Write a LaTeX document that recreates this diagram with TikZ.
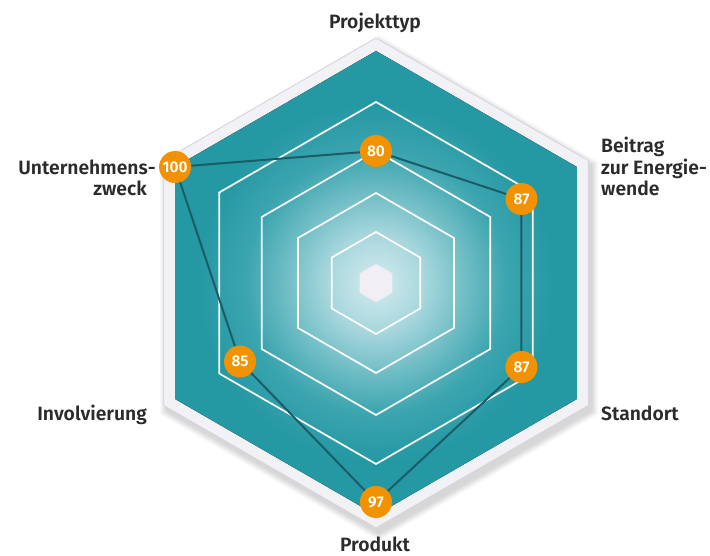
\documentclass[tikz,border=0pt]{standalone}
\usepackage{fontspec}
\setmainfont{Fira Sans}[UprightFont=* SemiBold, BoldFont=* SemiBold]
\usetikzlibrary{calc}
\definecolor{cA}{HTML}{D4ECEF}
\definecolor{cB}{HTML}{A6D6DC}
\definecolor{cC}{HTML}{70BDC5}
\definecolor{cD}{HTML}{3CA5AF}
\definecolor{cE}{HTML}{2498A3}
\definecolor{frame}{HTML}{F2F1F6}
\definecolor{frameedge}{HTML}{D3D3DC}
\definecolor{centerhex}{HTML}{F1EFF4}
\definecolor{dataline}{HTML}{1A5C68}
\definecolor{dotorange}{HTML}{F39200}
\definecolor{labelgray}{HTML}{2B2B2B}
\pgfdeclareradialshading{hexshade}{\pgfpointorigin}{color(0bp)=(cA); color(5bp)=(cB); color(9bp)=(cC); color(13bp)=(cD); color(18bp)=(cE); color(50bp)=(cE)}
\newcommand{\hexp}[1]{(-90:#1) -- (-30:#1) -- (30:#1) -- (90:#1) -- (150:#1) -- (210:#1) -- cycle}
\tikzset{
  lbl/.style={font=\fontsize{19.3}{23}\selectfont, text=labelgray, inner sep=0pt},
  ring/.style={draw=white, line width=1.7pt},
  dataedge/.style={draw=dataline, line width=2pt, line join=round},
  dot/.style={circle, fill=dotorange, minimum size=32pt, inner sep=0pt, text=white, font=\fontsize{15.5}{17}\selectfont}
}
\begin{document}
\begin{tikzpicture}[x=1pt, y=-1pt]
\useasboundingbox (0,0) rectangle (710,556);
\fill[white] (0,0) rectangle (710,556);
\begin{scope}[shift={(376,283)}]
  % soft shadow
  \foreach \i in {1,...,8} {
    \fill[black, opacity=0.02, shift={(3,5)}] \hexp{245+\i};
  }
  % frame
  \fill[frame] \hexp{245};
  \draw[frameedge, line width=0.8pt] \hexp{245};
  % teal area with radial gradient
  \begin{scope}
    \clip \hexp{232};
    \fill[shading=hexshade] (0,0) circle (250);
  \end{scope}
  % rings
  \draw[ring] \hexp{51};
  \draw[ring] \hexp{90};
  \draw[ring] \hexp{132};
  \draw[ring] \hexp{181};
  \fill[centerhex] \hexp{19};
  % data point positions
  \coordinate (c80)  at (-90:132);
  \coordinate (c87a) at (-30:168);
  \coordinate (c87b) at (30:168);
  \coordinate (c97)  at (90:219);
  \coordinate (c85)  at (150:157);
  \coordinate (c100) at (210:232);
\end{scope}
% data points
\node[dot] (p80)  at (c80)  {80};
\node[dot] (p87a) at (c87a) {87};
\node[dot] (p87b) at (c87b) {87};
\node[dot] (p97)  at (c97)  {97};
\node[dot] (p85)  at (c85)  {85};
\node[dot] (p100) at (c100) {100};
\draw[dataedge] (p100) -- (p80) -- (p87a) -- (p87b) -- (p97) -- (p85) -- (p100);
% labels
\node[lbl, anchor=base] (lproj) at (375,29) {Projekttyp};
\node[lbl, anchor=base east] (lunt1) at (148,175) {Unternehmens\rlap{-}};
\node[lbl, anchor=base east] (lunt2) at (147,196) {zweck};
\node[lbl, anchor=base west] (lbei1) at (601,153) {Beitrag};
\node[lbl, anchor=base west] (lbei2) at (601,175) {zur Energie-};
\node[lbl, anchor=base west] (lbei3) at (601,196) {wende};
\node[lbl, anchor=base west] (lsta) at (601,420) {Standort};
\node[lbl, anchor=base east] (linv) at (147,420) {Involvierung};
\node[lbl, anchor=base] (lprod) at (375,551) {Produkt};
\end{tikzpicture}
\end{document}
